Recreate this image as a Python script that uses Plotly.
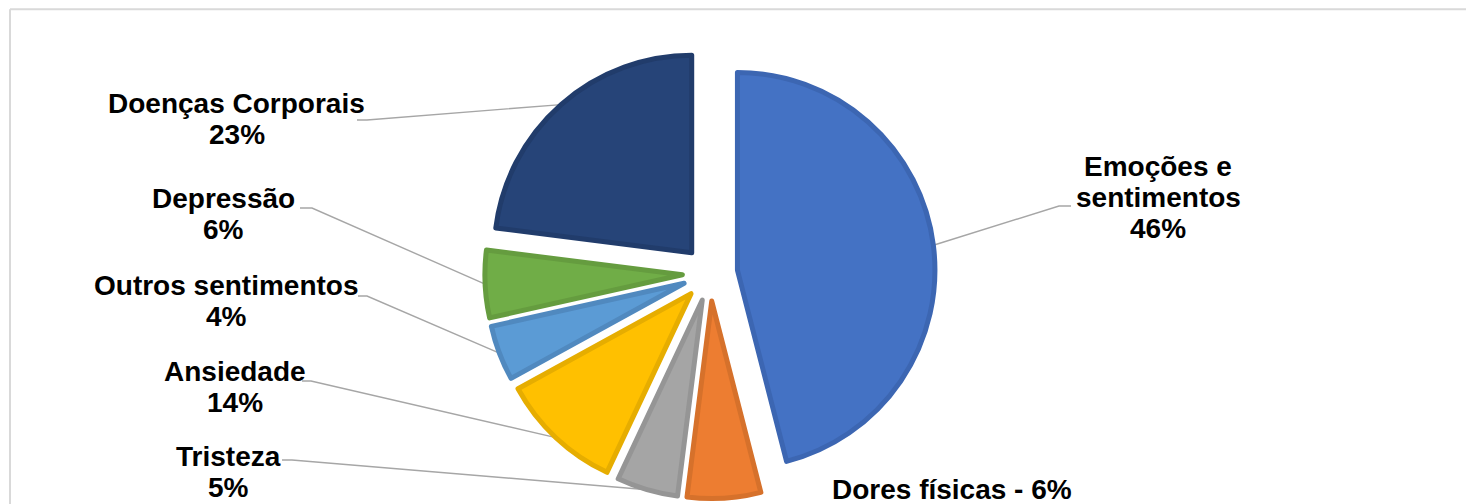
import math
import plotly.graph_objects as go

# ---------------- data ----------------
categories = ["Emoções e sentimentos", "Dores físicas", "Tristeza", "Ansiedade",
              "Outros sentimentos", "Depressão", "Doenças Corporais"]
values = [46, 6, 5, 10, 4.5, 5.5, 23]          # slice sizes
label_lines = [["Emoções e", "sentimentos", "46%"],
               ["Dores físicas - 6%"],
               ["Tristeza", "5%"],
               ["Ansiedade", "14%"],
               ["Outros sentimentos", "4%"],
               ["Depressão", "6%"],
               ["Doenças Corporais", "23%"]]

# ---------------- styles / layout ----------------
fill_colors = ["#4472C4", "#ED7D31", "#A5A5A5", "#FFC000", "#5B9BD5", "#70AD47", "#264478"]
edge_colors = ["#3C66B2", "#D6712B", "#959595", "#E6AD00", "#5089BF", "#659C3F", "#213C6B"]

OFF = 8                      # page body margin: figure pixel p shows at window pixel p + OFF
W, H = 1474 - OFF, 504 - OFF # figure size so it fits the window exactly
CX, CY = 710, 273.5          # pie centre in window pixels
R = 197.5
PULL = 0.14
FONT = "Liberation Sans, Arial, sans-serif"
FS = 28
LINE_GAP = 31

# label centre x and first baseline y (window pixels)
label_pos = [(1158, 176), (952, 499), (228, 466), (235, 381), (226, 295), (223.5, 208), (236.5, 113)]
# leader line stub: (x start, x end of short horizontal, y)
leader_stub = [(1071, 1059, 206), None, (282, 292, 460), (302, 311, 381),
               (358, 367, 296), (300, 312, 208), (357, 367, 120)]

half = R * (1 + PULL)
fx, fy = CX - OFF, CY - OFF
dom_x = [(fx - 300) / W, (fx + 300) / W]
dom_y = [1 - (fy + half) / H, 1 - (fy - half) / H]

fig = go.Figure()

total = sum(values)
cum = 0
lx, ly = [], []
for i, v in enumerate(values):
    theta = 2 * math.pi * (cum + v / 2) / total
    cum += v
    if leader_stub[i] is None:
        continue
    ex = CX + (1 + PULL) * R * math.sin(theta)
    ey = CY - (1 + PULL) * R * math.cos(theta)
    x0, x1, y0 = leader_stub[i]
    lx += [x0, x1, ex, None]
    ly += [y0, y0, ey, None]

fig.add_trace(go.Scatter(x=lx, y=ly, mode="lines",
                         line=dict(color="#A6A6A6", width=1.4),
                         hoverinfo="skip", showlegend=False))

fig.add_trace(go.Pie(
    labels=categories, values=values, sort=False, direction="clockwise", rotation=0,
    pull=[PULL] * len(values), textinfo="none", hoverinfo="label+percent",
    marker=dict(colors=fill_colors, line=dict(color=edge_colors, width=5)),
    domain=dict(x=dom_x, y=dom_y), showlegend=False))

annotations = []
for (cxl, by), lines in zip(label_pos, label_lines):
    for k, t in enumerate(lines):
        annotations.append(dict(
            x=cxl, y=by + k * LINE_GAP - 0.3465 * FS, xref="x", yref="y",
            text="<b>" + t + "</b>", showarrow=False, xanchor="center", yanchor="middle",
            font=dict(family=FONT, size=FS, color="#000000")))

# chart-area border (top and left edges visible in the crop)
border = dict(color="#D9D9D9", width=2)
shapes = [dict(type="line", xref="x", yref="y", x0=10, y0=9.2, x1=1474, y1=9.2, line=border, layer="below"),
          dict(type="line", xref="x", yref="y", x0=10, y0=9.2, x1=10, y1=504, line=border, layer="below")]

fig.update_layout(
    width=W, height=H, margin=dict(l=0, r=0, t=0, b=0),
    paper_bgcolor="white", plot_bgcolor="white",
    xaxis=dict(range=[OFF, W + OFF], visible=False, fixedrange=True),
    yaxis=dict(range=[H + OFF, OFF], visible=False, fixedrange=True),
    annotations=annotations, shapes=shapes, showlegend=False)

fig.write_html("out.html")
